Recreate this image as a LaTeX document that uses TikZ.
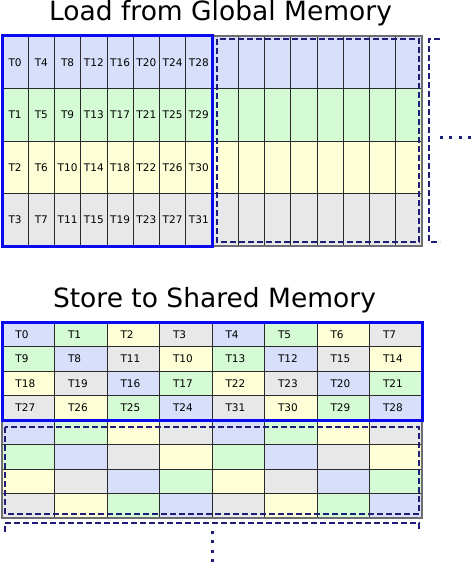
\documentclass[tikz,border=0pt]{standalone}
\usepackage{fontspec}
\setmainfont{DejaVu Sans}
\definecolor{c0}{HTML}{D7DFFA}
\definecolor{c1}{HTML}{D5FBD5}
\definecolor{c2}{HTML}{FEFED7}
\definecolor{c3}{HTML}{E8E8E8}
\definecolor{frameblue}{HTML}{0A0AF0}
\definecolor{navy}{HTML}{1E1E78}
\definecolor{framegrey}{HTML}{6E6E6E}
\definecolor{gridline}{HTML}{2A2A2A}
\begin{document}
\begin{tikzpicture}[x=1pt,y=-1pt,
  cellA/.style={draw=gridline, line width=0.8pt, minimum width=26.25pt, minimum height=52.5pt,
    inner sep=0pt, font=\fontsize{10.5}{12}\selectfont},
  cellB/.style={draw=gridline, line width=0.8pt, minimum width=52.5pt, minimum height=24.5pt,
    inner ysep=0pt, inner xsep=13.5pt, text width=25.5pt, align=left, font=\fontsize{10.5}{12}\selectfont},
  title/.style={anchor=base, font=\fontsize{26.5}{30}\selectfont},
  blueframe/.style={draw=frameblue, line width=3pt},
  greyframe/.style={draw=framegrey, line width=1.5pt},
  dashframe/.style={draw=navy, line width=1.3pt, dash pattern=on 6pt off 3pt},
  dot/.style={fill=navy}]
\useasboundingbox (0,0) rectangle (474,564);

% titles
\node[title] (t1) at (220.5,21) {Load from Global Memory};
\node[title] (t2) at (214.5,307) {Store to Shared Memory};

% top grid: global memory
\foreach \c in {0,...,7}{
  \foreach \r in {0,...,3}{
    \pgfmathtruncatemacro\t{4*\c+\r}
    \node[cellA, fill=c\r] (g\c-\r) at ({2+26.25*\c+13.125},{36+52.5*\r+26.25}) {T\t};
  }
}
\foreach \c in {8,...,15}{
  \foreach \r in {0,...,3}{
    \node[cellA, fill=c\r] (g\c-\r) at ({2+26.25*\c+13.125},{36+52.5*\r+26.25}) {};
  }
}
\draw[greyframe] (212,36) rectangle (422,246);
\draw[blueframe] (2,36) rectangle (212,246);
\draw[dashframe] (217,39) rectangle (419,242);
\draw[dashframe] (440,39) -- (429,39) -- (429,242) -- (440,242);
\foreach \x in {441,450.5,460,469.5}{
  \fill[dot] (\x-1.5,136.5) rectangle ++(3,3);
}

% bottom grid: shared memory
\foreach \r/\lst in {0/{0,1,2,3,4,5,6,7},1/{9,8,11,10,13,12,15,14},2/{18,19,16,17,22,23,20,21},3/{27,26,25,24,31,30,29,28}}{
  \foreach \t [count=\c from 0] in \lst {
    \pgfmathtruncatemacro\k{mod(\t,4)}
    \node[cellB, fill=c\k] (s\r-\c) at ({2+52.5*\c+26.25},{322+24.5*\r+12.25}) {T\t};
    \node[cellB, fill=c\k] (u\r-\c) at ({2+52.5*\c+26.25},{420+24.5*\r+12.25}) {};
  }
}
\draw[greyframe] (2,420) rectangle (422,518);
\draw[blueframe] (2,322) rectangle (422,420);
\draw[dashframe] (5,427) rectangle (419,514);
\draw[dashframe] (5,532) -- (5,523) -- (419,523) -- (419,532);
\foreach \y in {532,541.5,551,560.5}{
  \fill[dot] (210.5,\y-1.5) rectangle ++(3,3);
}
\end{tikzpicture}
\end{document}
